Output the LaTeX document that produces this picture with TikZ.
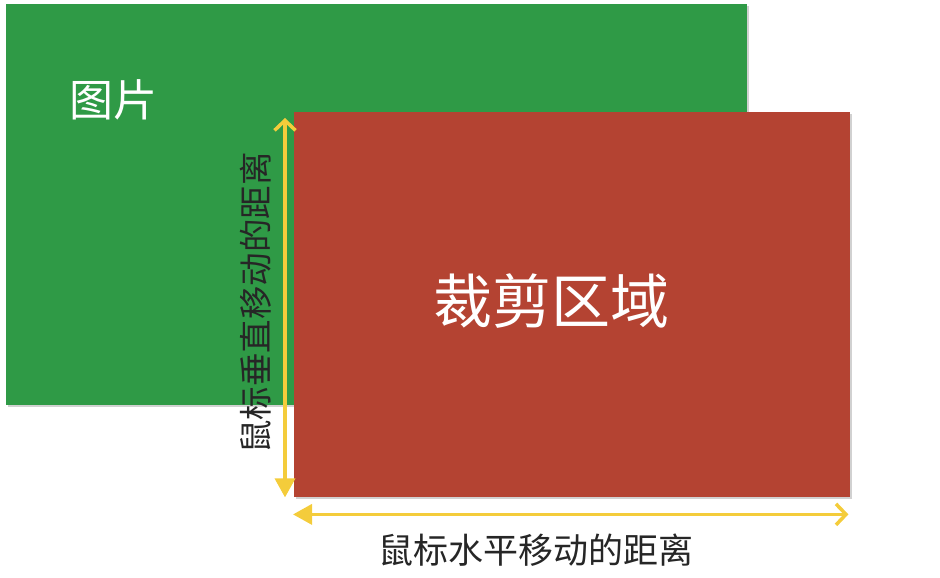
\documentclass[tikz,border=0pt]{standalone}
\usepackage{fontspec}
\setmainfont{Noto Sans CJK SC}
\usepackage{tikz}
\usetikzlibrary{arrows.meta,positioning,shadows,calc}

\definecolor{bildgreen}{RGB}{47,154,70}
\definecolor{cropred}{RGB}{180,67,50}
\definecolor{markyellow}{RGB}{244,204,59}

\begin{document}
\begin{tikzpicture}[
  x=1pt, y=-1pt,
  panel/.style={rectangle, draw=none, inner sep=0pt, anchor=north west,
    drop shadow={shadow xshift=2pt, shadow yshift=-2pt, opacity=0.3, fill=black!60}},
  measure/.style={draw=markyellow, line width=3.5pt,
    {Triangle[length=19pt,width=20pt]}-{Straight Barb[length=10pt,width=21pt,line width=3.5pt]}},
  caption/.style={font=\fontsize{35}{35}\selectfont, text=black!85, inner sep=0pt}
]
  \useasboundingbox (0,0) rectangle (940,578);
  % the two panels
  \node[panel, fill=bildgreen, minimum width=741pt, minimum height=401pt] (bild) at (6,4) {};
  \node[panel, fill=cropred, minimum width=556pt, minimum height=385pt] (crop) at (294,112) {};
  \node[font=\fontsize{44}{44}\selectfont, text=white, inner sep=0pt] (bildlabel) at (113,100) {图片};
  \node[font=\fontsize{59}{59}\selectfont, text=white, inner sep=0pt] (croplabel) at (551,301) {裁剪区域};

  % mouse movement
  \coordinate (vlow) at ($(crop.south west)+(-9,0)$);
  \coordinate (vhigh) at ($(crop.north west)+(-9,6)$);
  \coordinate (hleft) at ($(crop.south west)+(-1,17)$);
  \coordinate (hright) at ($(crop.south east)+(-2,17)$);
  \draw[measure] (vlow) -- (vhigh);
  \draw[measure] (hleft) -- (hright);
  \node[caption, rotate=90, font=\fontsize{33.5}{33.5}\selectfont] (vlabel) at (256,303) {鼠标垂直移动的距离};
  \node[caption] (hlabel) at (536,550) {鼠标水平移动的距离};
\end{tikzpicture}
\end{document}
